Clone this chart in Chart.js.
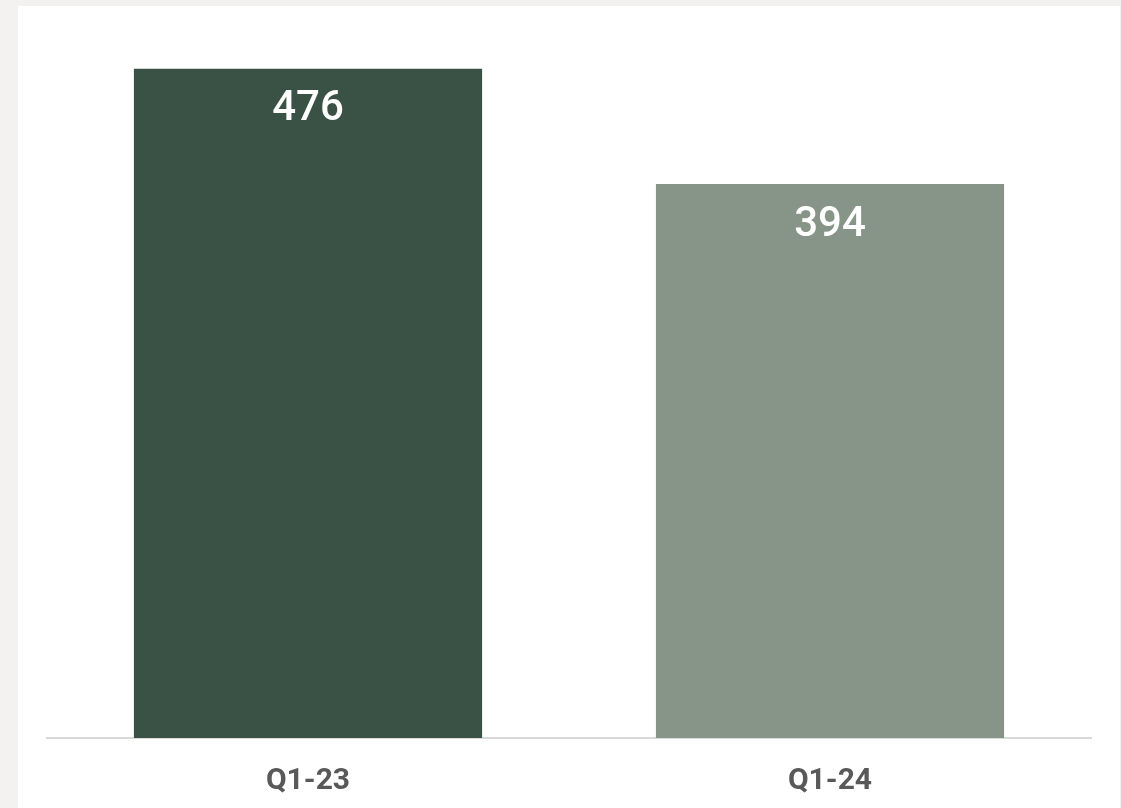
<!DOCTYPE html>
<html>
<head>
<meta charset="utf-8">
<script src="https://cdn.jsdelivr.net/npm/chart.js@4"></script>
<style>
  html, body { margin: 0; padding: 0; background: #f3f2f0; overflow: hidden; }
  .card { position: absolute; left: 18px; top: 6px; width: 1102px; height: 818px; background: #ffffff; }
</style>
</head>
<body>
<div class="card">
  <canvas id="bar-chart" width="1102" height="818"></canvas>
</div>
<script>
// chart data
var categories = ['Q1-23', 'Q1-24'];
var values = [476, 394];
var barColors = ['#3a5145', '#869587'];

// draws the value inside the top of each bar
var valueLabels = {
    id: 'valueLabels',
    afterDatasetsDraw: function(chart) {
        var ctx = chart.ctx;
        var meta = chart.getDatasetMeta(0);
        ctx.save();
        ctx.fillStyle = '#ffffff';
        ctx.font = '500 42px Roboto';
        ctx.textAlign = 'center';
        ctx.textBaseline = 'middle';
        meta.data.forEach(function(bar, i) {
            ctx.fillText(values[i], bar.x, bar.y + 41);
        });
        ctx.restore();
    }
};

var ctx = document.getElementById('bar-chart').getContext('2d');
var chart = new Chart(ctx, {
    type: 'bar',
    data: {
        labels: categories,
        datasets: [{
            data: values,
            backgroundColor: barColors,
            borderWidth: 0,
            categoryPercentage: 0.667,
            barPercentage: 1.0
        }]
    },
    options: {
        responsive: false,
        animation: false,
        layout: {
            padding: {left: 29, right: 29, top: 29, bottom: 0}
        },
        plugins: {
            legend: {display: false},
            tooltip: {enabled: false}
        },
        scales: {
            x: {
                grid: {display: false, drawTicks: false},
                border: {display: true, color: '#d9d9d9', width: 2},
                ticks: {
                    color: '#595959',
                    padding: 25,
                    font: {family: 'Roboto', size: 30, weight: 'bold'}
                }
            },
            y: {
                display: false,
                min: 0,
                max: 500
            }
        }
    },
    plugins: [valueLabels]
});
</script>
</body>
</html>
